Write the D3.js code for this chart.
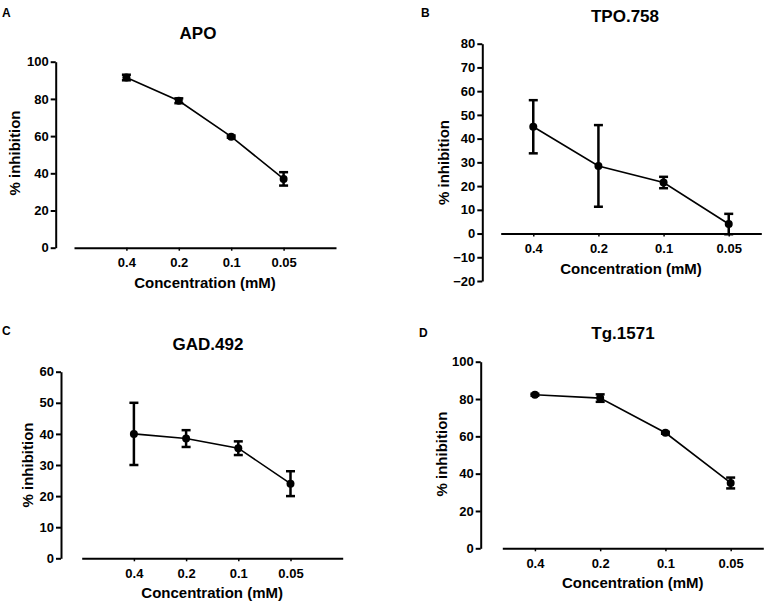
<!DOCTYPE html>
<html><head><meta charset="utf-8">
<script src="https://cdn.jsdelivr.net/npm/d3@7"></script>
<style>
html,body{margin:0;padding:0;background:#fff;}
svg{display:block;font-family:"Liberation Sans",Arial,sans-serif;font-weight:bold;}
</style></head>
<body><svg id="chart" width="768" height="604"></svg>
<script>
// ---- data ----
const categories = ["0.4", "0.2", "0.1", "0.05"];
const apoMean = [91.5, 79.0, 59.7, 37.0];
const apoErr  = [1.5, 1.3, 0.6, 3.6];
const tpoMean = [45.0, 28.5, 21.5, 4.0];
const tpoErr  = [11.2, 17.2, 2.4, 4.3];
const gadMean = [40.0, 38.5, 35.4, 24.0];
const gadErr  = [10.0, 2.7, 2.2, 4.0];
const tgMean  = [82.3, 80.5, 61.9, 35.0];
const tgErr   = [0.5, 2.0, 0.5, 2.9];
const apoTicks = [0, 20, 40, 60, 80, 100];
const tpoTicks = [-20, -10, 0, 10, 20, 30, 40, 50, 60, 70, 80];
const gadTicks = [0, 10, 20, 30, 40, 50, 60];
const tgTicks  = [0, 20, 40, 60, 80, 100];
const titles = ["APO", "TPO.758", "GAD.492", "Tg.1571"];
const letters = ["A", "B", "C", "D"];
const xTitle = "Concentration (mM)";
const yTitle = "% inhibition";

// ---- layout ----
const panels = [
  {mean: apoMean, err: apoErr, ticks: apoTicks, yx: 55.7, yr: [247.7, 61.7], xr: [74, 336], pad: 1,
   tx: 198, ty: 39, lx: 2, ly: 17, ylx: 19.5, yly: 153},
  {mean: tpoMean, err: tpoErr, ticks: tpoTicks, yx: 482.3, yr: [281, 43.7], xr: [500.7, 761.3], pad: 0.5,
   tx: 625, ty: 21.7, lx: 421, ly: 17.3, ylx: 449, yly: 162.5},
  {mean: gadMean, err: gadErr, ticks: gadTicks, yx: 61, yr: [558.3, 371.7], xr: [81.7, 342.7], pad: 1,
   tx: 208, ty: 350, lx: 2, ly: 335, ylx: 33, yly: 465},
  {mean: tgMean, err: tgErr, ticks: tgTicks, yx: 480.7, yr: [548.3, 361.7], xr: [502.3, 763.3], pad: 0.5,
   tx: 623, ty: 339.3, lx: 419, ly: 336.7, ylx: 447, yly: 454}
];

const svg = d3.select("#chart");

panels.forEach((p, i) => {
  const g = svg.append("g");
  const y = d3.scaleLinear().domain([p.ticks[0], p.ticks[p.ticks.length - 1]]).range(p.yr);
  const x = d3.scalePoint().domain(categories).range(p.xr).padding(p.pad);
  const y0 = y(0);

  // y axis
  const ya = g.append("g").attr("transform", `translate(${p.yx},0)`)
    .call(d3.axisLeft(y).tickValues(p.ticks).tickFormat(d3.format("d")).tickSize(5).tickSizeOuter(0).tickPadding(2));
  ya.select(".domain").attr("stroke", "#000").attr("stroke-width", 2);
  ya.selectAll(".tick line").attr("stroke", "#000").attr("stroke-width", 2);
  ya.selectAll(".tick text").attr("fill", "#000").style("font-size", "13px").style("font-weight", "bold")
    .style("font-family", "'Liberation Sans',Arial,sans-serif");

  // x axis at y=0
  const xa = g.append("g").attr("transform", `translate(0,${y0})`)
    .call(d3.axisBottom(x).tickSize(3).tickSizeOuter(0).tickPadding(7));
  xa.select(".domain").attr("stroke", "#000").attr("stroke-width", 2);
  xa.selectAll(".tick line").attr("stroke", "#000").attr("stroke-width", 1.5);
  xa.selectAll(".tick text").attr("fill", "#000").style("font-size", "13px").style("font-weight", "bold")
    .style("font-family", "'Liberation Sans',Arial,sans-serif");

  const pts = categories.map((c, k) => ({c, m: p.mean[k], e: p.err[k]}));

  // error bars
  const eb = g.append("g").attr("stroke", "#000").attr("stroke-width", 2.5);
  pts.forEach(d => {
    const cx = x(d.c);
    eb.append("line").attr("x1", cx).attr("x2", cx).attr("y1", y(d.m + d.e)).attr("y2", y(d.m - d.e));
    eb.append("line").attr("x1", cx - 4.5).attr("x2", cx + 4.5).attr("y1", y(d.m + d.e)).attr("y2", y(d.m + d.e));
    eb.append("line").attr("x1", cx - 4.5).attr("x2", cx + 4.5).attr("y1", y(d.m - d.e)).attr("y2", y(d.m - d.e));
  });

  // line
  g.append("path").datum(pts)
    .attr("fill", "none").attr("stroke", "#000").attr("stroke-width", 1.6)
    .attr("d", d3.line().x(d => x(d.c)).y(d => y(d.m)));

  // markers
  g.selectAll("circle.pt").data(pts).enter().append("circle")
    .attr("cx", d => x(d.c)).attr("cy", d => y(d.m)).attr("r", 4).attr("fill", "#000");

  // texts
  g.append("text").attr("x", p.tx).attr("y", p.ty).attr("text-anchor", "middle")
    .style("font-size", "17px").text(titles[i]);
  g.append("text").attr("x", p.lx).attr("y", p.ly).style("font-size", "12px").text(letters[i]);
  g.append("text").attr("x", (p.xr[0] + p.xr[1]) / 2).attr("y", y0 + 40).attr("text-anchor", "middle")
    .style("font-size", "15px").text(xTitle);
  g.append("text").attr("transform", `translate(${p.ylx},${p.yly}) rotate(-90)`).attr("text-anchor", "middle")
    .style("font-size", "15px").text(yTitle);
});
</script></body></html>
